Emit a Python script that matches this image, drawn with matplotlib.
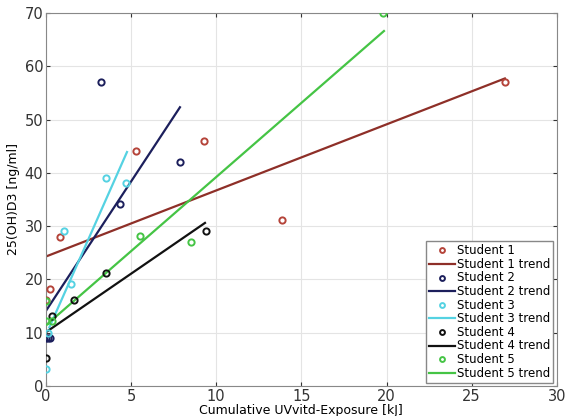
import matplotlib.pyplot as plt

# measured points for each student
s1_x = [0.0, 0.23, 0.82, 5.28, 9.28, 13.86, 26.95]
s1_y = [16.1, 18.2, 28.0, 44.1, 46.0, 31.1, 57.0]
s2_x = [0.0, 0.1, 0.25, 3.23, 4.35, 7.87]
s2_y = [9.0, 9.0, 9.0, 57.0, 34.1, 42.0]
s3_x = [0.0, 0.15, 1.05, 1.47, 3.52, 4.7]
s3_y = [3.2, 10.0, 29.0, 19.1, 39.0, 38.0]
s4_x = [0.0, 0.35, 1.65, 3.52, 9.4]
s4_y = [5.2, 13.1, 16.1, 21.2, 29.1]
s5_x = [0.0, 0.0, 0.35, 5.52, 8.5, 19.8]
s5_y = [12.2, 16.0, 12.2, 28.1, 27.0, 70.0]

# trend line endpoints
t1_x = [0.0, 26.95]
t1_y = [24.3, 57.7]
t2_x = [0.0, 7.87]
t2_y = [14.1, 52.3]
t3_x = [0.2, 4.76]
t3_y = [11.0, 43.9]
t4_x = [0.0, 9.34]
t4_y = [10.1, 30.6]
t5_x = [0.0, 19.85]
t5_y = [11.4, 66.6]

names = ["Student 1", "Student 2", "Student 3", "Student 4", "Student 5"]
colors = ["#b5443a", "#1c1f5c", "#55d2e2", "#111111", "#45c445"]
line_colors = ["#8e2f28", "#1c1f5c", "#55d2e2", "#111111", "#45c445"]

xs = [s1_x, s2_x, s3_x, s4_x, s5_x]
ys = [s1_y, s2_y, s3_y, s4_y, s5_y]
txs = [t1_x, t2_x, t3_x, t4_x, t5_x]
tys = [t1_y, t2_y, t3_y, t4_y, t5_y]

fig = plt.figure(figsize=(5.67, 4.16), dpi=100)
ax = fig.add_axes([0.081, 0.072, 0.901, 0.897])

for i in range(5):
    ax.plot(xs[i], ys[i], 'o', mfc='none', mec=colors[i], mew=1.4, ms=4.5,
            label=names[i], zorder=3)
    ax.plot(txs[i], tys[i], '-', color=line_colors[i], lw=1.6,
            label=names[i] + " trend", zorder=2)

ax.set_xlim(0, 30)
ax.set_ylim(0, 70)
ax.set_xticks(range(0, 31, 5))
ax.set_yticks(range(0, 71, 10))
ax.grid(True, color='#e4e4e4', lw=0.8)
ax.set_axisbelow(True)
ax.tick_params(direction='in', top=True, right=True, labelsize=10.5, length=3,
               colors='#333333', pad=2)
for sp in ax.spines.values():
    sp.set_color('#888888')

ax.set_xlabel("Cumulative UVvitd-Exposure [kJ]", fontsize=9, labelpad=0)
ax.set_ylabel("25(OH)D3 [ng/ml]", fontsize=9, labelpad=3)

leg = ax.legend(loc='lower right', fontsize=8.5, labelspacing=0.05,
                handlelength=2.2, handletextpad=0.2, borderpad=0.25,
                handleheight=0.5, fancybox=False, framealpha=1,
                edgecolor='#888888', borderaxespad=0.3)
for h in leg.legend_handles[::2]:
    h.set_markersize(3.5)

fig.savefig("out.png", dpi=100)
